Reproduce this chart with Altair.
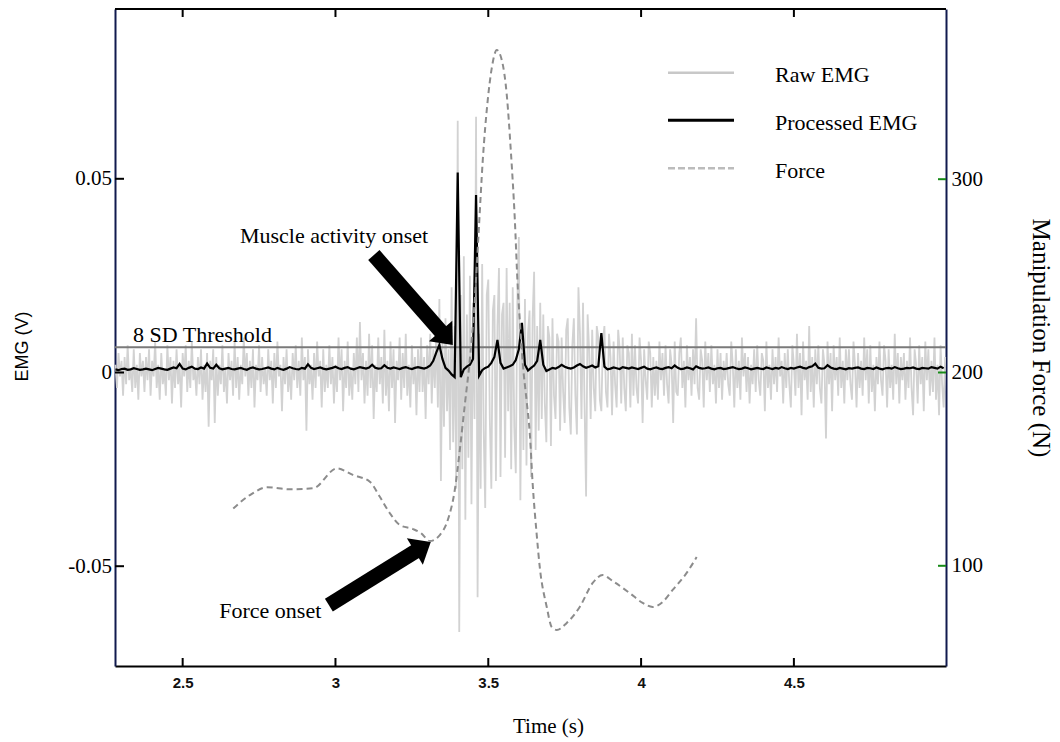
import altair as alt
import pandas as pd
import numpy as np

SERIF = "Liberation Serif"
SANS = "Liberation Sans"
NAVY = "#111a4e"

# ---------------- data ----------------
RAW_T0, RAW_DT = 2.28, 0.005     # raw EMG sampling (s)
PROC_T0, PROC_DT = 2.28, 0.01    # processed EMG sampling (s)

raw_emg_mv = [
    2, -4, 5, -1, 3, -6, 4, -3, 7, -2, 1, -5, 6, -4, 2, -7, 5, -1, 3, -5,
    4, -2, 6, -6, 3, -1, 8, -4, 2, -7, 5, -3, 1, -6, 7, -2, 4, -8, 3, -4,
    6, -3, 2, -9, 5, -1, 7, -5, 3, -4, 8, -2, 1, -6, 4, -3, 6, -7, 2, -5,
    5, -14, 3, -2, 6, -13, 4, -6, 2, -3, 7, -5, 1, -8, 5, -2, 3, -6, 8, -4,
    4, -7, 2, -3, 9, -1, 5, -6, 3, -4, 6, -9, 2, -2, 7, -5, 4, -3, 1, -6,
    6, -2, 3, -8, 5, -4, 8, -1, 2, -10, 4, -3, 6, -5, 1, -7, 5, -2, 7, -4,
    3, -6, 9, -2, 4, -15, 6, -3, 2, -7, 5, -4, 8, -1, 3, -9, 6, -5, 2, -4,
    7, -3, 4, -8, 2, -5, 9, -2, 6, -10, 3, -4, 8, -6, 1, -7, 5, -3, 9, -5,
    13, -2, 5, -8, 3, -6, 10, -4, 7, -12, 2, -5, 9, -3, 4, -8, 11, -6, 3, -10,
    8, -4, 6, -13, 3, -2, 9, -7, 5, -4, 10, -6, 2, -9, 7, -3, 4, -11, 6, -5,
    9, -5, 4, -12, 7, -3, 10, -8, 6, -4, 11, -9, 19, -28, 8, -14, 14, -10, 6, -20,
    22, -18, 12, -30, 65, -67, 20, -25, 30, -38, 15, -22, 25, -34, 18, -12, 66, -58, 10, -30,
    28, -15, -35, 20, 24, -12, -30, 16, 20, -28, 12, 27, -27, 15, 18, -22, 27, -10, 18, -25,
    22, -14, -26, 18, 35, -33, 12, -20, 19, -24, 10, 16, -27, 14, 26, -20, 12, -15, 18, -12,
    15, -8, -18, 12, 9, -19, 14, -6, -12, 10, 8, -15, 9, -5, -13, 11, 14, -9, -16, 7,
    14, -6, -16, 22, 10, -12, 18, -8, -32, 15, 6, -12, 11, -4, -10, 12, 9, -7, -10, 8,
    12, -5, -9, 10, 4, -11, 8, -3, -9, 11, 6, -8, 9, -4, -10, 7, 5, -9, 10, -6,
    7, -4, -8, 9, 3, -13, 6, -2, -7, 8, 5, -9, 4, -6, 3, -7, 8, -2, 5, -6,
    7, -3, -8, 6, 2, -13, 8, -5, -6, 5, 9, -4, 3, -9, 7, -2, 4, -6, 6, -3,
    14, -4, -7, 6, 3, -9, 8, -2, 5, -5, 7, -3, 2, -8, 6, -4, 5, -7, 3, -2,
    5, -3, -6, 8, 2, -9, 6, -4, 3, -7, 9, -1, 5, -5, 4, -8, 2, -3, 6, -5,
    7, -2, -6, 5, 3, -10, 8, -4, 2, -7, 6, -3, 4, -5, 9, -1, 3, -8, 5, -4,
    6, -3, -9, 7, 2, -6, 10, -4, 5, -11, 8, -2, 3, -7, 12, -5, 4, -9, 6, -3,
    7, -4, -8, 6, 2, -17, 8, -3, 5, -10, 7, -2, 4, -6, 9, -4, 3, -8, 6, -2,
    6, -3, -7, 8, 2, -9, 5, -4, 3, -6, 9, -2, 6, -8, 7, -5, 2, -10, 4, -3,
    8, -2, -6, 7, 3, -9, 6, -4, 2, -7, 10, -3, 5, -8, 4, -2, 5, -7, 3, -4,
    9, -4, -11, 6, 2, -8, 7, -3, 4, -10, 8, -2, 6, -6, 3, -5, 9, -7, 2, -11,
    7, -3, -9, 4,
]

processed_emg_mv = [
    0.8, 0.6, 0.9, 1.0, 0.7, 0.8, 1.1, 0.9, 0.7, 0.8,
    1.0, 0.8, 0.6, 0.9, 1.2, 1.0, 0.8, 0.7, 1.0, 1.3,
    1.1, 2.2, 1.0, 0.8, 1.2, 1.5, 1.0, 0.9, 1.3, 1.0,
    2.3, 1.2, 1.0, 2.0, 1.1, 0.8, 1.0, 1.2, 0.9, 0.8,
    1.0, 1.2, 0.9, 0.7, 1.1, 1.3, 1.0, 0.8, 0.9, 1.1,
    1.3, 1.0, 0.8, 1.2, 0.9, 0.7, 1.0, 1.4, 1.1, 0.9,
    0.8, 1.2, 1.0, 2.1, 1.2, 0.9, 1.1, 1.3, 1.0, 0.8,
    1.0, 1.2, 1.5, 1.1, 0.9, 1.2, 1.4, 1.0, 0.8, 1.1,
    1.4, 1.2, 1.0, 1.3, 2.0, 1.2, 1.0, 1.1, 1.9, 1.2,
    1.0, 1.3, 1.1, 0.9, 1.2, 1.4, 1.1, 0.9, 1.2, 1.4,
    1.2, 1.0, 1.3, 1.8, 3.0, 5.2, 7.1, 3.5, 1.2, 0.5,
    -0.5, -1.2, 51.6, -1.2, 0.8, 1.5, 2.0, 3.5, 45.8, -0.8,
    0.6, 1.2, 1.5, 2.5, 4.0, 8.4, 2.5, 1.0, 1.3, 1.6,
    2.0, 3.2, 6.0, 12.8, 2.0, 0.5, 1.2, 1.8, 3.0, 8.4,
    2.0, 0.4, 0.8, 1.2, 1.0, 1.4, 2.0, 1.5, 1.2, 1.0,
    1.3, 1.8, 2.2, 1.6, 1.2, 1.5, 1.8, 1.3, 1.6, 10.2,
    1.5, 0.8, 1.0, 1.3, 1.1, 0.9, 1.4, 1.2, 1.0, 1.3,
    1.1, 0.9, 1.2, 1.5, 1.0, 0.8, 1.1, 1.3, 1.0, 0.9,
    1.2, 1.4, 1.1, 1.8, 1.2, 0.9, 1.0, 1.3, 1.1, 0.8,
    1.6, 1.2, 1.0, 1.1, 1.3, 1.0, 0.8, 1.1, 1.2, 0.9,
    1.0, 1.2, 1.4, 1.1, 0.9, 1.0, 1.3, 1.1, 0.8, 1.0,
    1.2, 1.0, 0.9, 1.3, 1.1, 0.9, 1.2, 1.0, 1.4, 1.1,
    0.9, 1.2, 1.0, 1.3, 1.5, 1.2, 1.0, 1.4, 1.6, 2.3,
    1.2, 1.0, 1.1, 1.9, 1.3, 1.0, 0.9, 1.2, 1.0, 0.8,
    1.1, 1.0, 1.2, 1.3, 1.0, 0.9, 1.2, 1.1, 0.9, 1.3,
    1.0, 0.8, 1.1, 1.2, 1.0, 1.4, 1.1, 0.9, 1.0, 1.2,
    1.1, 1.3, 1.0, 0.9, 1.2, 1.1, 1.0, 1.4, 1.2, 1.0,
    1.5, 1.1,
]

force_time = [2.6655, 2.7201, 2.7766, 2.8509, 2.9271, 3.0046, 3.0569, 3.1125,
              3.1452, 3.1779, 3.2106, 3.2541, 3.2793, 3.3087, 3.3414, 3.3675,
              3.3904, 3.4068, 3.4231, 3.4395, 3.4558, 3.4689, 3.4820, 3.4983,
              3.5114, 3.5278, 3.5441, 3.5605, 3.5736, 3.5866, 3.5964, 3.6030,
              3.6128, 3.6259, 3.6357, 3.6455, 3.6586, 3.6684, 3.6913, 3.7076,
              3.7240, 3.7567, 3.7992, 3.8417, 3.8744, 3.9071, 3.9627, 4.0052,
              4.0379, 4.0706, 4.1033, 4.1491, 4.1818]
force_newton = [129.7, 136.6, 140.6, 139.6, 140.1, 150.4, 147.0, 143.5,
                135.7, 127.2, 121.1, 119.0, 117.0, 112.8, 115.9, 123.7,
                139.2, 159.9, 183.2, 206.5, 237.5, 273.7, 309.9, 341.0,
                357.5, 366.8, 361.7, 343.6, 315.1, 279.9, 244.2, 227.2,
                204.9, 184.7, 168.7, 141.8, 115.9, 99.4, 78.7, 68.3,
                66.8, 70.4, 78.7, 91.1, 95.2, 92.1, 85.9, 80.8,
                78.7, 81.3, 87.5, 96.3, 104.5]

threshold_v = 0.0065

x_ticks = [2.5, 3, 3.5, 4, 4.5]
emg_ticks = [-0.05, 0, 0.05]
force_ticks = [100, 200, 300]

legend_labels = ["Raw EMG", "Processed EMG", "Force"]

# annotation anchor points (time, EMG V)
text_labels = ["Muscle activity onset", "Force onset", "8 SD Threshold"]
text_time = [3.3031, 2.6197, 2.3375]
text_emg = [0.03343, -0.06345, 0.00795]
text_align = ["right", "left", "left"]

arrow_tail_time = [3.1256, 2.9784]
arrow_tail_emg = [0.03033, -0.06002]
arrow_neck_time = [3.3521, 3.2711]
arrow_neck_emg = [0.00994, -0.04569]
arrow_tip_time = [3.3839, 3.3119]
arrow_tip_emg = [0.00710, -0.04375]
arrow_angle = [49, 329]

X_DOMAIN = [2.2786, 4.9977]
EMG_DOMAIN = [-0.07576, 0.09383]
FORCE_DOMAIN = [48.16, 388.05]

# ---------------- tables ----------------
raw_df = pd.DataFrame({
    "t": np.round(RAW_T0 + RAW_DT * np.arange(len(raw_emg_mv)), 4),
    "raw": np.array(raw_emg_mv) / 1000.0,
})
proc_df = pd.DataFrame({
    "t": np.round(PROC_T0 + PROC_DT * np.arange(len(processed_emg_mv)), 4),
    "proc": np.array(processed_emg_mv) / 1000.0,
})
force_df = pd.DataFrame({"t": force_time, "f": force_newton})
xt_df = pd.DataFrame({"t": x_ticks})
et_df = pd.DataFrame({"v": emg_ticks})
ft_df = pd.DataFrame({"f": force_ticks})
thr_df = pd.DataFrame({"v": [threshold_v]})

arrow_rows = []
for i in range(2):
    arrow_rows.append({"id": i, "o": 0, "t": arrow_tail_time[i], "v": arrow_tail_emg[i]})
    arrow_rows.append({"id": i, "o": 1, "t": arrow_neck_time[i], "v": arrow_neck_emg[i]})
shaft_df = pd.DataFrame(arrow_rows)
head_df = pd.DataFrame({"t": arrow_tip_time, "v": arrow_tip_emg, "a": arrow_angle})

xs = alt.Scale(domain=X_DOMAIN, nice=False, zero=False)
ys = alt.Scale(domain=EMG_DOMAIN, nice=False, zero=False)
fs = alt.Scale(domain=FORCE_DOMAIN, nice=False, zero=False)

x_axis = alt.Axis(
    values=x_ticks, format="~g", orient="bottom", grid=False,
    ticks=False, tickSize=0, domain=True, domainColor="black", domainWidth=2,
    labelFont=SANS, labelFontSize=15, labelFontWeight="bold", labelColor="#111111",
    labelPadding=9,
    title="Time (s)", titleFont=SERIF, titleFontSize=21, titleFontWeight="normal",
    titleColor="black", titleX=433, titleY=66, titleBaseline="alphabetic",
    titleAlign="center", titleAngle=0,
)

emg_axis = alt.Axis(
    values=emg_ticks, orient="left", grid=False,
    ticks=False, tickSize=0, domain=True, domainColor=NAVY, domainWidth=2,
    labelExpr="datum.value == 0 ? '0' : (datum.value < 0 ? '-' : '') + format(abs(datum.value), '.2f') + '\u00a0'",
    labelFont=SERIF, labelFontSize=21, labelColor="black", labelPadding=3.5,
    title="EMG (V)", titleFont=SANS, titleFontSize=18, titleFontWeight="normal",
    titleColor="black", titleX=-88, titleY=337, titleAngle=270,
    titleAlign="center", titleBaseline="alphabetic",
)

force_axis = alt.Axis(
    values=force_ticks, orient="right", format="d", grid=False,
    ticks=False, tickSize=0, domain=True, domainColor=NAVY, domainWidth=2,
    labelFont=SERIF, labelFontSize=21, labelColor="black", labelPadding=5,
    title="Manipulation Force (N)", titleFont=SERIF, titleFontSize=25,
    titleFontWeight="normal", titleColor="black", titleX=86, titleY=328.5,
    titleAngle=90, titleAlign="center", titleBaseline="alphabetic",
)


def X(field):
    return alt.X(field, scale=xs, axis=x_axis)


def YE(field):
    return alt.Y(field, scale=ys, axis=emg_axis)


def YF(field):
    return alt.Y(field, scale=fs, axis=force_axis)


# ---------------- EMG group ----------------
raw = alt.Chart(raw_df).mark_line(color="#d2d2d2", strokeWidth=1.8).encode(
    x=X("t:Q"), y=YE("raw:Q"),
)
thr = alt.Chart(thr_df).mark_rule(color="#7a7a7a", strokeWidth=2).encode(
    y=YE("v:Q"), x=alt.value(0), x2=alt.value(831),
)
proc = alt.Chart(proc_df).mark_line(color="black", strokeWidth=2.2).encode(
    x=X("t:Q"), y=YE("proc:Q"),
)
top_frame = alt.Chart(thr_df).mark_rule(color="black", strokeWidth=2).encode(
    x=alt.value(0), x2=alt.value(831), y=alt.value(0),
)
bottom_ticks = alt.Chart(xt_df).mark_rule(color="black", strokeWidth=2).encode(
    x=X("t:Q"), y=alt.value(649), y2=alt.value(657),
)
top_ticks = alt.Chart(xt_df).mark_rule(color="black", strokeWidth=2).encode(
    x=X("t:Q"), y=alt.value(0), y2=alt.value(8),
)
left_ticks = alt.Chart(et_df).mark_rule(color="black", strokeWidth=2).encode(
    y=YE("v:Q"), x=alt.value(0), x2=alt.value(9),
)
shafts = alt.Chart(shaft_df).mark_line(color="black", strokeWidth=15, strokeCap="butt").encode(
    x=X("t:Q"), y=YE("v:Q"), detail="id:N", order="o:Q",
)
heads = alt.Chart(head_df).mark_point(
    shape="M0,0 L-1.2,-1 L-1.2,1 Z", filled=True, color="black",
    opacity=1, size=961, strokeWidth=0,
).encode(
    x=X("t:Q"), y=YE("v:Q"), angle=alt.Angle("a:Q", scale=None),
)

texts = []
for lab, tt, vv, al in zip(text_labels, text_time, text_emg, text_align):
    d = pd.DataFrame({"t": [tt], "v": [vv], "s": [lab]})
    texts.append(alt.Chart(d).mark_text(font=SERIF, fontSize=22, color="black",
                                        align=al, baseline="alphabetic").encode(
        x=X("t:Q"), y=YE("v:Q"), text="s:N",
    ))

# legend drawn inside the plot, top right
leg_styles = [
    dict(color="#c8c8c8", strokeWidth=2.5),
    dict(color="black", strokeWidth=3),
    dict(color="#bcbcbc", strokeWidth=2.5, strokeDash=[7, 3]),
]
leg_rule_y = [63.7, 111.3, 159.3]
leg_text_y = [72.5, 120.5, 168.5]
legend_layers = []
for lab, st, ry, ty in zip(legend_labels, leg_styles, leg_rule_y, leg_text_y):
    legend_layers.append(alt.Chart(thr_df).mark_rule(**st).encode(
        x=alt.value(553), x2=alt.value(619), y=alt.value(ry)))
    legend_layers.append(alt.Chart(thr_df).mark_text(
        font=SERIF, fontSize=22, color="black", align="left", baseline="alphabetic"
    ).encode(x=alt.value(660), y=alt.value(ty), text=alt.value(lab)))

emg_group = alt.layer(raw, thr, proc, top_frame, bottom_ticks, top_ticks,
                      left_ticks, shafts, heads, *texts, *legend_layers)

# ---------------- Force group ----------------
force_line = alt.Chart(force_df).mark_line(
    color="#8c8c8c", strokeWidth=2, strokeDash=[6, 4], interpolate="monotone"
).encode(
    x=X("t:Q"), y=YF("f:Q"),
)
right_ticks = alt.Chart(ft_df).mark_rule(color="#178a17", strokeWidth=2).encode(
    y=YF("f:Q"), x=alt.value(823), x2=alt.value(831),
)
force_group = alt.layer(force_line, right_ticks)

chart = alt.layer(emg_group, force_group).resolve_scale(y="independent").properties(
    width=831, height=657,
    autosize=alt.AutoSizeParams(type="none"),
    padding={"left": 115, "top": 9, "right": 114, "bottom": 76},
    background="white",
).configure_view(stroke=None)

chart.save("out.html", embed_options={"renderer": "svg", "actions": False})
